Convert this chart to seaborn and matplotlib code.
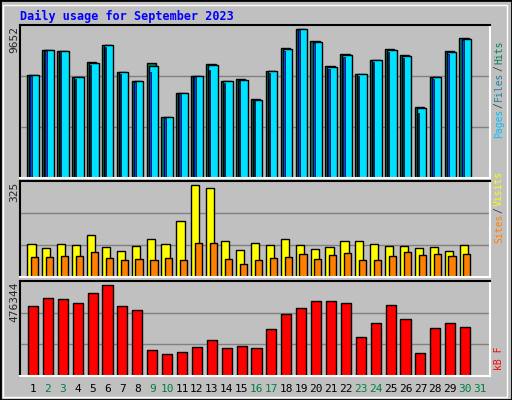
import matplotlib
matplotlib.use("Agg")
import matplotlib.pyplot as plt
import numpy as np
import pandas as pd
import seaborn as sns
from matplotlib.patches import Rectangle

days = list(range(1, 31))
labels = [str(d) for d in range(1, 32)]
weekend = {2, 3, 9, 10, 16, 17, 23, 24, 30, 31}

# (zoomed pixel tops -> values)
hits_top = [223, 148, 151, 231, 186, 135, 216, 241, 189, 349, 277, 226, 192, 241, 235,
            295, 213, 144, 87, 123, 198, 162, 222, 180, 147, 165, 318, 231, 153, 114]
files_top = [223, 148, 151, 231, 189, 135, 216, 241, 196, 349, 277, 226, 195, 243, 238,
             298, 213, 147, 87, 126, 201, 165, 222, 180, 150, 168, 321, 231, 156, 117]
pages_top = [228, 152, 155, 236, 193, 139, 220, 245, 215, 353, 281, 230, 210, 247, 242,
             302, 219, 151, 91, 130, 205, 169, 226, 184, 154, 172, 337, 235, 160, 121]
visits_top = [205, 217, 205, 208, 178, 214, 226, 211, 190, 205, 136, 28, 37, 196, 223,
              202, 208, 190, 208, 220, 214, 196, 196, 205, 211, 211, 217, 214, 226, 208]
sites_top = [244, 244, 241, 241, 229, 247, 253, 250, 253, 247, 253, 202, 202, 250, 265,
             253, 247, 244, 235, 250, 238, 232, 253, 253, 241, 229, 238, 235, 241, 235]
kb_top = [391, 367, 370, 382, 352, 328, 391, 403, 523, 535, 529, 514, 493, 517, 511,
          517, 460, 415, 397, 376, 376, 382, 484, 442, 388, 430, 532, 457, 442, 454]

max_hits, max_visits, max_kb = 9652, 325, 476344
hits = [(530 - t) / 455 * max_hits for t in hits_top]
files = [(530 - t) / 455 * max_hits for t in files_top]
pages = [(530 - t) / 455 * max_hits for t in pages_top]
visits = [(305 - t) / 288 * max_visits for t in visits_top]
sites = [(305 - t) / 288 * max_visits for t in sites_top]
kbytes = [(602 - t) / 285 * max_kb for t in kb_top]

sns.set_style("white")
plt.rcParams["font.family"] = ["DejaVu Sans Mono"]

W, H = 512, 400
fig = plt.figure(figsize=(W / 100, H / 100), dpi=100, facecolor="#C0C0C0")
fig.patches.append(Rectangle((0, 0), 1, 1, transform=fig.transFigure, fill=False,
                             edgecolor="black", linewidth=2))
fig.patches.append(Rectangle((3 / W, 3 / H), 1 - 8 / W, 1 - 8 / H, transform=fig.transFigure,
                             fill=False, edgecolor="white", linewidth=1))


def panel(y0, y1):
    ax = fig.add_axes([20 / W, 1 - y1 / H, 470 / W, (y1 - y0) / H])
    ax.set_facecolor("#C0C0C0")
    ax.set_xticks([])
    ax.set_yticks([])
    for s in ("top", "left"):
        ax.spines[s].set_color("black")
    for s in ("bottom", "right"):
        ax.spines[s].set_color("white")
    for sp in ax.spines.values():
        sp.set_linewidth(1.5)
    return ax


def bars(ax, offset, vals, color, width, lw=1.0):
    df = pd.DataFrame({"x": np.array(days) + offset, "y": vals})
    sns.barplot(data=df, x="x", y="y", native_scale=True, width=width, color=color,
                edgecolor="black", linewidth=lw, saturation=1, ax=ax, errorbar=None)
    ax.set_xlabel("")
    ax.set_ylabel("")


# top panel
ax1 = panel(25, 178)
ax1.set_ylim(0, max_hits)
for g in (1 / 3, 2 / 3):
    ax1.axhline(max_hits * g, color="#808080", lw=1, zorder=0)
bars(ax1, -0.06, hits, "#00805C", 0.64)
bars(ax1, 0.08, files, "#00E0FF", 0.64)
bars(ax1, -0.14, pages, "#0040FF", 0.1, lw=0.5)
ax1.set_xlim(0.13, 31.67)

# middle panel
ax2 = panel(181, 277)
ax2.set_ylim(0, max_visits)
for g in (1 / 3, 2 / 3):
    ax2.axhline(max_visits * g, color="#808080", lw=1, zorder=0)
bars(ax2, -0.1, visits, "#FFFF00", 0.55)
bars(ax2, 0.12, sites, "#FF8000", 0.48)
ax2.set_xlim(0.13, 31.67)

# bottom panel
ax3 = panel(281, 376)
ax3.set_ylim(0, max_kb)
for g in (1 / 3, 2 / 3):
    ax3.axhline(max_kb * g, color="#808080", lw=1, zorder=0)
bars(ax3, 0.0, kbytes, "#FF0000", 0.68)
ax3.set_xlim(0.13, 31.67)

# day labels
for i, lab in enumerate(labels):
    d = i + 1
    xpix = 20 + (d - 0.13) / (31.67 - 0.13) * 470
    fig.text(xpix / W, 1 - 389 / H, lab, ha="center", va="center", fontsize=8,
             color="#008040" if d in weekend else "black")

# title and max labels
fig.text(20 / W, 1 - 16 / H, "Daily usage for September 2023", fontsize=8.5,
         fontweight="bold", color="#0000FF", va="center")
for ytop, txt in ((26, "9652"), (182, "325"), (282, "476344")):
    fig.text(14 / W, 1 - ytop / H, txt, rotation=90, ha="center", va="top", fontsize=8)


def side_label(ybottom, parts):
    # one string per colour, stacked upwards; 7pt mono ~ 5.85 px per char
    y = ybottom
    for txt, col in parts:
        fig.text(499 / W, 1 - y / H, txt, rotation=90, ha="center", va="bottom",
                 fontsize=7, color=col)
        y -= len(txt) * 5.85 + 1


side_label(138, [("Pages", "#00C0FF"), ("/", "#404040"), ("Files", "#2080A0"),
                 ("/", "#404040"), ("Hits", "#00805C")])
side_label(243, [("Sites", "#FF8000"), ("/", "#404040"), ("Visits", "#FFFF00")])
side_label(370, [("kB F", "#FF0000")])

fig.savefig("out.png", dpi=100, facecolor=fig.get_facecolor())
